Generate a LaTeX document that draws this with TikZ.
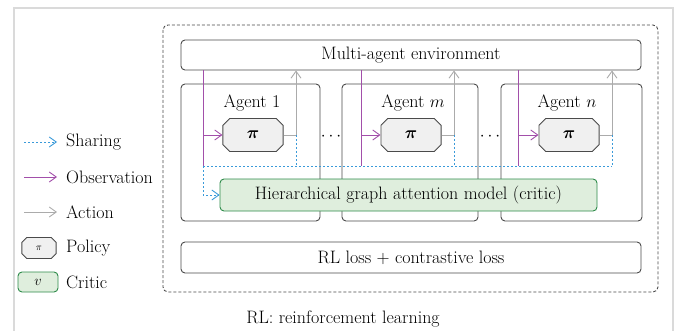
\documentclass[tikz,border=0pt]{standalone}
\usepackage{bm}
\usetikzlibrary{arrows.meta,shapes.misc}
\definecolor{obsc}{HTML}{A24FAA}
\definecolor{sharec}{HTML}{3A9AD9}
\definecolor{actc}{HTML}{ABABAB}
\definecolor{boxc}{HTML}{4A4A4A}
\definecolor{critf}{HTML}{DFEEDD}
\definecolor{critd}{HTML}{2E8B4A}
\definecolor{polf}{HTML}{F0F0F0}
\definecolor{framec}{HTML}{DADADA}
\begin{document}
\begin{tikzpicture}[x=1pt,y=-1pt,
  font=\fontsize{18}{21}\selectfont,
  tip/.style={-{Straight Barb[length=7pt,width=10pt]}},
  bigbox/.style={draw=boxc,line width=0.9pt,rounded corners=4pt,inner sep=0pt},
  agentbox/.style={draw=boxc,line width=0.9pt,rounded corners=4pt,inner sep=0pt,minimum height=137pt},
  polbox/.style={chamfered rectangle,chamfered rectangle xsep=6pt,draw=boxc,fill=polf,line width=0.9pt,inner xsep=20pt,inner ysep=0pt,minimum height=33pt},
  critbox/.style={draw=critd,fill=critf,line width=0.9pt,rounded corners=4pt,inner sep=0pt},
  obsline/.style={draw=obsc,line width=0.9pt},
  actline/.style={draw=actc,line width=0.9pt},
  shareline/.style={draw=sharec,line width=0.9pt,dash pattern=on 2pt off 2pt},
  lbl/.style={anchor=west,inner sep=0pt}
]
\useasboundingbox (0,0) rectangle (684,331);
% outer light frame
\draw[framec,line width=2pt] (14,331) -- (14,8) -- (673,8) -- (673,331);
% dashed container
\draw[boxc,line width=0.9pt,dash pattern=on 3pt off 2pt,rounded corners=5pt] (163,25) rectangle (658,292);

% environment and loss
\node[bigbox,minimum width=460pt,minimum height=30pt] (env) at (411,55) {Multi-agent environment};
\node[bigbox,minimum width=460pt,minimum height=31pt] (loss) at (411,257.5) {RL loss + contrastive loss};

% agents
\node[agentbox,minimum width=139pt] (ag1) at (250.5,152.5) {};
\node[agentbox,minimum width=136pt] (agm) at (410,152.5) {};
\node[agentbox,minimum width=141pt] (agn) at (571.5,152.5) {};
\node (l1) at (252,103) {Agent 1};
\node (lm) at (413,103) {Agent $m$};
\node (ln) at (567,103) {Agent $n$};

% policies
\node[polbox] (p1) at (253,135) {$\bm{\pi}$};
\node[polbox] (pm) at (411,135) {$\bm{\pi}$};
\node[polbox] (pn) at (569,135) {$\bm{\pi}$};

% dots
\node (d1) at (331,137) {$\cdots$};
\node (d2) at (490,137) {$\cdots$};

% critic
\node[critbox,minimum width=377pt,minimum height=32pt] (crit) at (408.5,195) {Hierarchical graph attention model (critic)};

% coordinates for connectors
\coordinate (o1) at (203,166);
\coordinate (om) at (361,166);
\coordinate (on) at (518,166);
\coordinate (a1) at (296,135);
\coordinate (am) at (454,135);
\coordinate (an) at (612,135);

% observation lines
\foreach \o/\p in {o1/p1,om/pm,on/pn}{
  \draw[obsline] (env.south -| \o) -- (\o);
  \draw[obsline,tip] (\p.west -| \o) -- (\p.west);
}
% action lines
\foreach \a/\p in {a1/p1,am/pm,an/pn}{
  \draw[actline,tip] (\p.east) -- (\a) -- (env.south -| \a);
}
% sharing lines
\foreach \a in {a1,am,an}{
  \draw[shareline] (\a) -- (\a |- o1);
}
\draw[shareline] (o1) -- (an |- o1);
\draw[shareline,tip] (o1) |- (crit.west);

% legend
\coordinate (s0) at (24,142); \coordinate (s1) at (57,142);
\coordinate (b0) at (24,177); \coordinate (b1) at (57,177);
\coordinate (c0) at (24,212); \coordinate (c1) at (57,212);
\draw[shareline,tip] (s0) -- (s1);
\draw[obsline,tip] (b0) -- (b1);
\draw[actline,tip] (c0) -- (c1);
\node[lbl] (ls) at (66,142) {Sharing};
\node[lbl] (lo) at (66,177) {Observation};
\node[lbl] (la) at (66,212) {Action};
\node[chamfered rectangle,chamfered rectangle xsep=4pt,draw=boxc,fill=polf,line width=0.9pt,inner xsep=12pt,inner ysep=0pt,minimum height=21pt,font=\fontsize{10}{12}\selectfont] (lp) at (39,248) {$\pi$};
\node[lbl] (lpt) at (66,248) {Policy};
\node[critbox,minimum width=40pt,minimum height=20pt,font=\fontsize{14}{16}\selectfont] (lc) at (38,282) {$v$};
\node[lbl] (lct) at (66,282) {Critic};

% caption
\node (cap) at (343,319) {RL: reinforcement learning};
\end{tikzpicture}
\end{document}
